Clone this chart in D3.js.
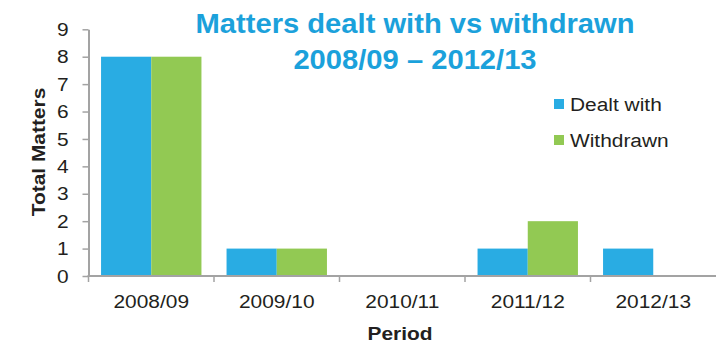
<!DOCTYPE html>
<html>
<head>
<meta charset="utf-8">
<script src="https://cdn.jsdelivr.net/npm/d3@7"></script>
<style>
  html, body { margin: 0; padding: 0; background: #fff; }
  svg { display: block; font-family: "Liberation Sans", Arial, sans-serif; }
</style>
</head>
<body>
<svg id="chart" width="716" height="344"></svg>
<script>
// Chart data
const periods = ["2008/09", "2009/10", "2010/11", "2011/12", "2012/13"];
const seriesNames = ["Dealt with", "Withdrawn"];
const dealtWith = [8, 1, 0, 1, 1];
const withdrawn = [8, 1, 0, 2, 0];
const yTicks = [0, 1, 2, 3, 4, 5, 6, 7, 8, 9];
const titleLines = ["Matters dealt with vs withdrawn", "2008/09 \u2013 2012/13"];
const yTitle = "Total Matters";
const xTitle = "Period";

const colors = ["#29ACE3", "#92C953"];
const axisColor = "#A3A3A3";
const textColor = "#231F20";
const stretch = "scale(1.1,1)";

const svg = d3.select("#chart");

const x = d3.scaleBand().domain(periods).range([88.5, 716])
  .paddingInner(0.2).paddingOuter(0.1);
const xs = d3.scaleBand().domain(seriesNames).range([0, x.bandwidth()]);
const y = d3.scaleLinear().domain([0, 9]).range([276, 29.3]);

const values = [dealtWith, withdrawn];
const rows = periods.map((p, i) => ({
  period: p,
  items: seriesNames.map((s, j) => ({ series: s, value: values[j][i], color: colors[j] }))
}));

// Bars
const groups = svg.append("g").selectAll("g").data(rows).join("g")
  .attr("transform", d => `translate(${x(d.period)},0)`);
groups.selectAll("rect").data(d => d.items.filter(v => v.value > 0)).join("rect")
  .attr("x", d => xs(d.series))
  .attr("width", xs.bandwidth())
  .attr("y", d => y(d.value))
  .attr("height", d => y(0) - y(d.value))
  .attr("fill", d => d.color);

// Y axis
const yAxis = svg.append("g").attr("transform", "translate(88.5,0)")
  .call(d3.axisLeft(y).tickValues(yTicks).tickFormat(d3.format("d"))
    .tickSize(6).tickSizeOuter(0).tickPadding(12));
yAxis.select(".domain").attr("stroke", axisColor).attr("stroke-width", 2);
yAxis.selectAll(".tick line").attr("stroke", axisColor).attr("stroke-width", 1.5);
yAxis.selectAll(".tick text")
  .attr("fill", textColor).attr("font-size", 19)
  .attr("font-family", "Liberation Sans, Arial, sans-serif")
  .attr("transform", stretch);

// X axis: baseline with ticks at the category boundaries
const x0 = x.range()[0];
const boundaries = d3.range(periods.length + 1).map(i => x0 + i * x.step());
const xAxis = svg.append("g");
xAxis.append("line")
  .attr("x1", x0 - 1).attr("x2", x.range()[1])
  .attr("y1", y(0)).attr("y2", y(0))
  .attr("stroke", axisColor).attr("stroke-width", 2);
xAxis.selectAll("line.bt").data(boundaries.slice(0, periods.length)).join("line")
  .attr("class", "bt")
  .attr("x1", d => d).attr("x2", d => d)
  .attr("y1", y(0)).attr("y2", y(0) + 6)
  .attr("stroke", axisColor).attr("stroke-width", 1.5);
xAxis.selectAll("text").data(periods).join("text")
  .attr("transform", d => `translate(${x(d) + x.bandwidth() / 2},308) ${stretch}`)
  .attr("text-anchor", "middle")
  .attr("fill", textColor).attr("font-size", 19)
  .text(d => d);

// Axis titles
svg.append("text")
  .attr("transform", `translate(45,152) rotate(-90) ${stretch}`)
  .attr("text-anchor", "middle")
  .attr("font-weight", "bold").attr("font-size", 19).attr("fill", textColor)
  .text(yTitle);
svg.append("text")
  .attr("transform", `translate(400,340) ${stretch}`)
  .attr("text-anchor", "middle")
  .attr("font-weight", "bold").attr("font-size", 19).attr("fill", textColor)
  .text(xTitle);

// Title
svg.append("g").selectAll("text").data(titleLines).join("text")
  .attr("transform", (d, i) => `translate(415,${33 + i * 36}) scale(1.08,1)`)
  .attr("text-anchor", "middle")
  .attr("font-weight", "bold").attr("font-size", 27).attr("fill", "#1BA1DB")
  .text(d => d);

// Legend
const legend = svg.append("g").selectAll("g").data(seriesNames).join("g")
  .attr("transform", (d, i) => `translate(554,${99 + i * 36})`);
legend.append("rect")
  .attr("width", 10).attr("height", 10)
  .attr("fill", (d, i) => colors[i]);
legend.append("text")
  .attr("transform", `translate(16,12) ${stretch}`)
  .attr("fill", textColor).attr("font-size", 19)
  .text(d => d);
</script>
</body>
</html>
